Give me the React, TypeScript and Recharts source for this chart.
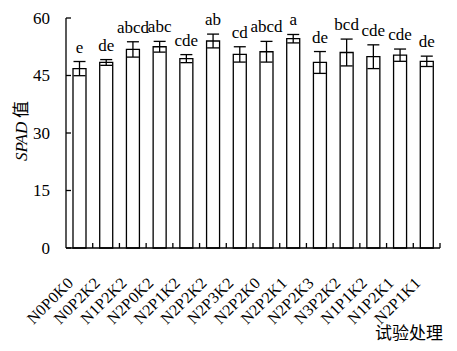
import React from "react";
import { BarChart, Bar, XAxis, YAxis, ErrorBar, LabelList } from "recharts";

const categories = [
  "N0P0K0", "N0P2K2", "N1P2K2", "N2P0K2", "N2P1K2", "N2P2K2", "N2P3K2",
  "N2P2K0", "N2P2K1", "N2P2K3", "N3P2K2", "N1P1K2", "N1P2K1", "N2P1K1",
];
const spadValues = [46.8, 48.4, 51.8, 52.5, 49.4, 54.0, 50.5, 51.2, 54.6, 48.4, 51.0, 49.9, 50.3, 48.7];
const spadErrors = [1.85, 0.75, 2.0, 1.4, 1.05, 1.8, 2.0, 2.7, 1.1, 2.85, 3.5, 3.1, 1.6, 1.35];
const letters = ["e", "de", "abcd", "abc", "cde", "ab", "cd", "abcd", "a", "de", "bcd", "cde", "cde", "de"];
const yTicks = [0, 15, 30, 45, 60];

const data = categories.map((name, i) => ({ name, value: spadValues[i], err: spadErrors[i] }));

const W = 457;
const H = 351;
const ML = 66;
const MR = 17;
const MT = 18;
const MB = 103;
const BW = (W - ML - MR) / categories.length;
const SERIF = "'Liberation Serif', 'Times New Roman', serif";
const CJK = "'Noto Sans CJK SC', sans-serif";

const XTick = (props: any) => {
  const { x, y, payload } = props;
  return (
    <g>
      <line x1={x + BW / 2} y1={y} x2={x + BW / 2} y2={y - 5} stroke="#000" strokeWidth={1.3} />
      <text
        transform={`translate(${x - 5},${y + 36}) rotate(-45)`}
        textAnchor="end"
        fontFamily={SERIF}
        fontSize={16}
        letterSpacing={0.3}
        fill="#000"
      >
        {payload.value}
      </text>
    </g>
  );
};

const YTick = (props: any) => {
  const { x, y, payload } = props;
  return (
    <g>
      <line x1={x} y1={y} x2={x + 5} y2={y} stroke="#000" strokeWidth={1.3} />
      <text x={x - 16} y={y} dy="0.35em" textAnchor="end" fontFamily={SERIF} fontSize={17} fill="#000">
        {payload.value}
      </text>
    </g>
  );
};

const Letter = (props: any) => {
  const { x, y, width, height, value, index } = props;
  const capY = y - (spadErrors[index] * height) / value;
  return (
    <text x={x + width / 2} y={capY - 9} textAnchor="middle" fontFamily={SERIF} fontSize={17} fill="#000">
      {letters[index]}
    </text>
  );
};

export default function App() {
  return (
    <div style={{ position: "absolute", left: 0, top: 0, width: W, height: H, background: "#fff" }}>
      <BarChart width={W} height={H} data={data} margin={{ top: MT, right: MR, left: 0, bottom: 0 }}>
        <XAxis
          dataKey="name"
          height={MB}
          interval={0}
          axisLine={{ stroke: "#000", strokeWidth: 1.3 }}
          tickLine={false}
          tickSize={0}
          tickMargin={0}
          tick={<XTick />}
        />
        <YAxis
          width={ML}
          domain={[0, 60]}
          ticks={yTicks}
          interval={0}
          axisLine={{ stroke: "#000", strokeWidth: 1.3 }}
          tickLine={false}
          tickSize={0}
          tickMargin={0}
          tick={<YTick />}
        />
        <Bar dataKey="value" fill="#fff" stroke="#000" strokeWidth={1.3} barSize={13} isAnimationActive={false}>
          <ErrorBar dataKey="err" width={6} stroke="#000" strokeWidth={1.3} />
          <LabelList dataKey="value" content={<Letter />} />
        </Bar>
        <text transform="translate(27,131) rotate(-90)" textAnchor="middle" fontSize={17} fill="#000">
          <tspan fontFamily={SERIF} fontStyle="italic">SPAD</tspan>
          <tspan fontFamily={CJK}>{" 值"}</tspan>
        </text>
        <text x={443} y={339} textAnchor="end" fontFamily={CJK} fontSize={17} fill="#000">
          试验处理
        </text>
      </BarChart>
    </div>
  );
}
